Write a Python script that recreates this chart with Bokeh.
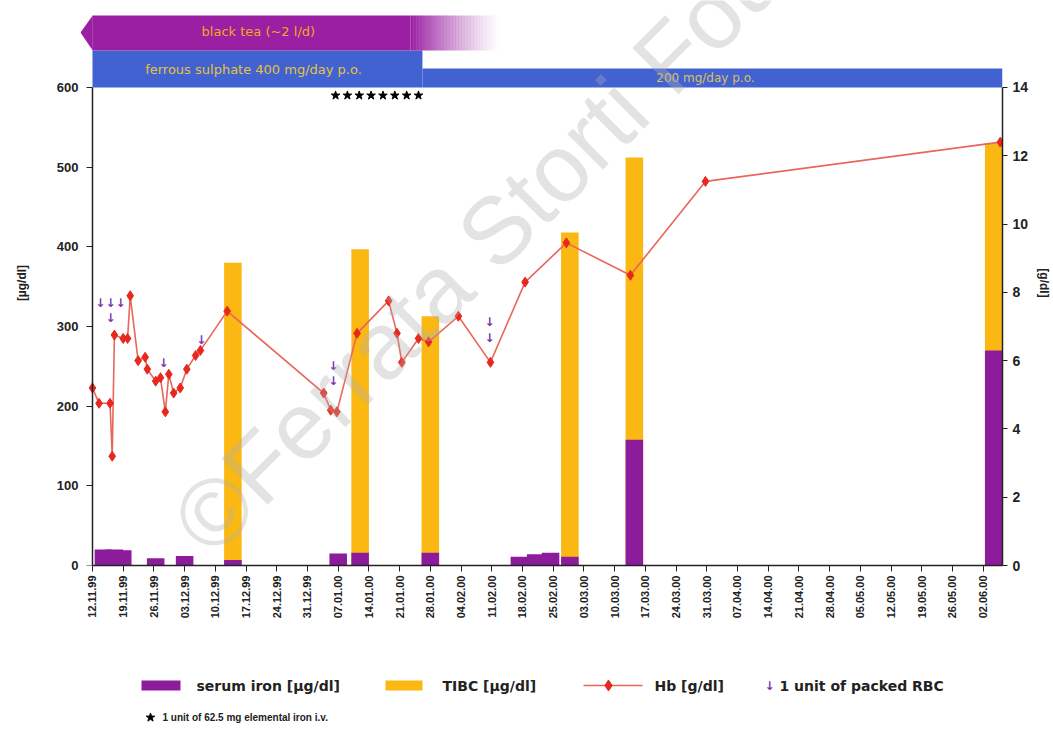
import math
from bokeh.plotting import figure
from bokeh.models import Range1d, LinearAxis, FixedTicker, ColumnDataSource, Label
from bokeh.layouts import column
from bokeh.core.properties import value
from bokeh.embed import file_html
from bokeh.resources import INLINE

FONT = "Liberation Sans"
WIDE = "DejaVu Sans"

# ---------------- data (x = days after 12.11.99) ----------------
tick_labels = ["12.11.99", "19.11.99", "26.11.99", "03.12.99", "10.12.99", "17.12.99",
               "24.12.99", "31.12.99", "07.01.00", "14.01.00", "21.01.00", "28.01.00",
               "04.02.00", "11.02.00", "18.02.00", "25.02.00", "03.03.00", "10.03.00",
               "17.03.00", "24.03.00", "31.03.00", "07.04.00", "14.04.00", "21.04.00",
               "28.04.00", "05.05.00", "12.05.00", "19.05.00", "26.05.00", "02.06.00"]
tick_days = [0, 7, 14, 21, 28, 35, 42, 49, 56, 63, 70, 77, 84, 91, 98, 105, 112, 119,
             126, 133, 140, 147, 154, 161, 168, 175, 182, 189, 196, 203]

iron_day = [2.5, 5.0, 6.9, 14.4, 21.0, 32.0, 56.0, 61.0, 77.0, 97.3, 101.0, 104.4, 108.8, 123.5, 205.4]
iron_val = [20, 20, 19, 9, 12, 7, 15, 16, 16, 11, 14, 16, 11, 158, 270]

tibc_day = [32.0, 61.0, 77.0, 108.8, 123.5, 205.4]
tibc_val = [380, 397, 313, 418, 512, 530]

hb_day = [0.0, 1.5, 4.0, 4.5, 5.0, 7.0, 8.0, 8.6, 10.4, 12.0, 12.5, 14.4, 15.5, 16.6,
          17.4, 18.5, 20.0, 21.5, 23.5, 24.6, 30.7, 52.7, 54.3, 55.7, 60.3, 67.5, 69.4,
          70.5, 74.3, 76.6, 83.4, 90.7, 98.6, 108.0, 122.6, 139.7, 206.9]
hb_val = [5.2, 4.75, 4.75, 3.2, 6.75, 6.65, 6.65, 7.9, 6.0, 6.1, 5.75, 5.4, 5.5, 4.5,
          5.6, 5.05, 5.2, 5.75, 6.15, 6.3, 7.45, 5.05, 4.55, 4.5, 6.8, 7.75, 6.8,
          5.95, 6.65, 6.55, 7.3, 5.95, 8.3, 9.45, 8.5, 11.25, 12.4]

rbc_day = [1.8, 4.1, 6.4, 4.1, 16.2, 24.8, 54.9, 54.9, 90.5, 90.5]
rbc_pos = [7.70, 7.70, 7.70, 7.25, 5.92, 6.59, 5.85, 5.40, 7.12, 6.65]

iv_day = [55.4, 58.1, 60.8, 63.5, 66.2, 68.9, 71.6, 74.3]
iv_level = 590

tea_solid_end = 72.5
tea_fade_end = 93.0
fs400_end = 75.2
x_start = -2.73
x_end = 207.4

left_ticks = [0, 100, 200, 300, 400, 500, 600]
right_ticks = [0, 2, 4, 6, 8, 10, 12, 14]

# ---------------- styles ----------------
PURPLE = "#8c1c9c"
ORANGE = "#fbb813"
BLUE = "#4262d2"
TEA = "#9a1fa2"
HB_LINE = "#e8665a"
HB_MARK = "#e8281e"
RBC = "#7a34b0"
AX = "#222222"

Y_TOP = 709.2
p = figure(frame_width=922, frame_height=565,
           x_range=Range1d(x_start, x_end), y_range=Range1d(0, Y_TOP),
           min_border_left=80, min_border_right=51, min_border_top=0, min_border_bottom=65,
           output_backend="svg", toolbar_location=None)
p.outline_line_color = None
p.grid.visible = False
p.background_fill_color = "white"

p.extra_y_ranges = {"hb": Range1d(0, 14 * Y_TOP / 600.0)}

# x axis
xa = p.xaxis[0]
xa.ticker = FixedTicker(ticks=tick_days)
xa.bounds = (0, x_end)
xa.major_label_overrides = {d: s for d, s in zip(tick_days, tick_labels)}
xa.major_label_orientation = math.pi / 2
xa.major_label_text_font = FONT
xa.major_label_text_font_style = "bold"
xa.major_label_text_font_size = "11px"
xa.major_label_text_color = AX
xa.major_label_standoff = 4
xa.major_tick_out = 6
xa.major_tick_in = 0
xa.minor_tick_line_color = None
xa.axis_line_color = AX
xa.axis_line_width = 1.5
xa.major_tick_line_color = AX

# left axis: labels (panel edge) ...
ya = p.yaxis[0]
ya.ticker = FixedTicker(ticks=left_ticks)
ya.bounds = (0, 600)
ya.axis_label = "[µg/dl]"
ya.axis_label_text_font = FONT
ya.axis_label_text_font_style = "bold"
ya.axis_label_text_font_size = "12px"
ya.axis_label_text_color = AX
ya.axis_label_standoff = 25
ya.major_label_text_font = FONT
ya.major_label_text_font_style = "bold"
ya.major_label_text_font_size = "13px"
ya.major_label_text_color = AX
ya.major_label_standoff = 2
ya.major_tick_out = 0
ya.major_tick_in = 0
ya.minor_tick_line_color = None
ya.axis_line_color = None
ya.major_tick_line_color = None

# ... and line + ticks drawn at day 0
fa = LinearAxis(fixed_location=0, ticker=FixedTicker(ticks=left_ticks), bounds=(0, 600))
fa.major_label_text_font_size = "1px"
fa.major_label_text_alpha = 0
fa.major_label_standoff = 0
fa.major_tick_out = 6
fa.major_tick_in = 0
fa.minor_tick_line_color = None
fa.axis_line_color = AX
fa.axis_line_width = 1.5
fa.major_tick_line_color = AX
p.add_layout(fa, "left")

# right axis
ra = LinearAxis(y_range_name="hb", ticker=FixedTicker(ticks=right_ticks), bounds=(0, 14),
                axis_label="[g/dl]")
ra.axis_label_text_font = FONT
ra.axis_label_text_font_style = "bold"
ra.axis_label_text_font_size = "12px"
ra.axis_label_text_color = AX
ra.axis_label_standoff = 6
ra.major_label_text_font = FONT
ra.major_label_text_font_style = "bold"
ra.major_label_text_font_size = "14px"
ra.major_label_text_color = AX
ra.major_label_standoff = 5
ra.major_tick_out = 5
ra.major_tick_in = 0
ra.minor_tick_line_color = None
ra.axis_line_color = AX
ra.axis_line_width = 1.5
ra.major_tick_line_color = AX
p.add_layout(ra, "right")

# bars
tibc_src = ColumnDataSource(dict(day=tibc_day, val=tibc_val))
iron_src = ColumnDataSource(dict(day=iron_day, val=iron_val))
p.vbar(x="day", top="val", width=4.0, source=tibc_src, fill_color=ORANGE, line_color=None)
p.vbar(x="day", top="val", width=4.0, source=iron_src, fill_color=PURPLE, line_color=None)

# Hb
hb_src = ColumnDataSource(dict(day=hb_day, val=hb_val))
p.line("day", "val", source=hb_src, y_range_name="hb", line_color=HB_LINE, line_width=1.6)
p.scatter("day", "val", source=hb_src, y_range_name="hb", marker="diamond", size=10,
          fill_color=HB_MARK, line_color=HB_MARK)

# RBC arrows
rbc_src = ColumnDataSource(dict(day=rbc_day, pos=rbc_pos, t=["↓"] * len(rbc_day)))
p.text("day", "pos", text="t", source=rbc_src, y_range_name="hb",
       text_font=value("DejaVu Sans"), text_font_style="bold", text_font_size="12px",
       text_color=RBC, text_align="center", text_baseline="middle")

# iv iron stars
iv_src = ColumnDataSource(dict(day=iv_day, lvl=[iv_level] * len(iv_day)))
p.scatter("day", "lvl", source=iv_src, marker="star", size=9, fill_color="black",
          line_color="black")

# treatment banners (y in left-axis units above 600)
p.quad(left=[0], right=[fs400_end], bottom=[600], top=[646.4], fill_color=BLUE, line_color=None)
p.quad(left=[fs400_end], right=[x_end], bottom=[600], top=[623.8], fill_color=BLUE, line_color=None)
p.quad(left=[0], right=[tea_solid_end], bottom=[646.4], top=[690.4], fill_color=TEA, line_color=None)
p.patch([x_start, 0.05, 0.05], [669.0, 690.4, 646.4], fill_color=TEA, line_color=None)
nfade = 30
step = (tea_fade_end - tea_solid_end) / nfade
p.quad(left=[tea_solid_end + i * step for i in range(nfade)],
       right=[tea_solid_end + (i + 1) * step + 0.05 for i in range(nfade)],
       bottom=[646.4] * nfade, top=[690.4] * nfade,
       fill_color=TEA, fill_alpha=[(1 - (i + 0.5) / nfade) ** 1.3 for i in range(nfade)],
       line_color=None)

p.add_layout(Label(x=37.8, y=670, text="black tea (~2 l/d)", text_font=WIDE,
                   text_font_size="13px", text_color="#f6a623", text_align="center",
                   text_baseline="middle"))
p.add_layout(Label(x=36.7, y=622, text="ferrous sulphate 400 mg/day p.o.", text_font=WIDE,
                   text_font_size="13px", text_color="#e3c43c", text_align="center",
                   text_baseline="middle"))
p.add_layout(Label(x=139.7, y=611.5, text="200 mg/day p.o.", text_font=WIDE,
                   text_font_size="12px", text_color="#d9c060", text_align="center",
                   text_baseline="middle"))

# watermark
p.add_layout(Label(x=22.1, y=36.4, text="©Ferrata Storti Foundation", text_font=FONT,
                   text_font_size="95px", text_color="#b0b0b0", text_alpha=0.35,
                   angle=45, angle_units="deg", text_align="left", text_baseline="middle"))

# ---------------- legend panel (coordinates = page pixels) ----------------
lf = figure(frame_width=922, frame_height=100, x_range=Range1d(80, 1002),
            y_range=Range1d(730, 630), min_border_left=80, min_border_right=51,
            min_border_top=0, min_border_bottom=0, x_axis_location=None,
            y_axis_location=None, output_backend="svg", toolbar_location=None)
lf.grid.visible = False
lf.outline_line_color = None

row1, row2 = 685, 717
lf.quad(left=[141], right=[180], bottom=[row1 + 5], top=[row1 - 5], fill_color=PURPLE, line_color=None)
lf.quad(left=[385], right=[422], bottom=[row1 + 5], top=[row1 - 5], fill_color=ORANGE, line_color=None)
lf.line([583, 642], [row1, row1], line_color=HB_LINE, line_width=1.6)
lf.scatter([608], [row1], marker="diamond", size=11, fill_color=HB_MARK, line_color=HB_MARK)
lf.text([769], [row1], text=["↓"], text_font=value("DejaVu Sans"), text_font_style="bold",
        text_font_size="12px", text_color=RBC, text_align="center", text_baseline="middle")
lf.text([196, 442, 654, 779], [row1] * 4,
        text=["serum iron [µg/dl]", "TIBC [µg/dl]", "Hb [g/dl]", "1 unit of packed RBC"],
        text_font=value(WIDE), text_font_style="bold", text_font_size="14px",
        text_color=AX, text_align="left", text_baseline="middle")
lf.scatter([150], [row2], marker="star", size=9, fill_color="black", line_color="black")
lf.text([162], [row2], text=["1 unit of 62.5 mg elemental iron i.v."],
        text_font=value(FONT), text_font_style="bold", text_font_size="10px",
        text_color=AX, text_align="left", text_baseline="middle")

layout = column(p, lf)
open("out.html", "w").write(file_html(layout, INLINE))
